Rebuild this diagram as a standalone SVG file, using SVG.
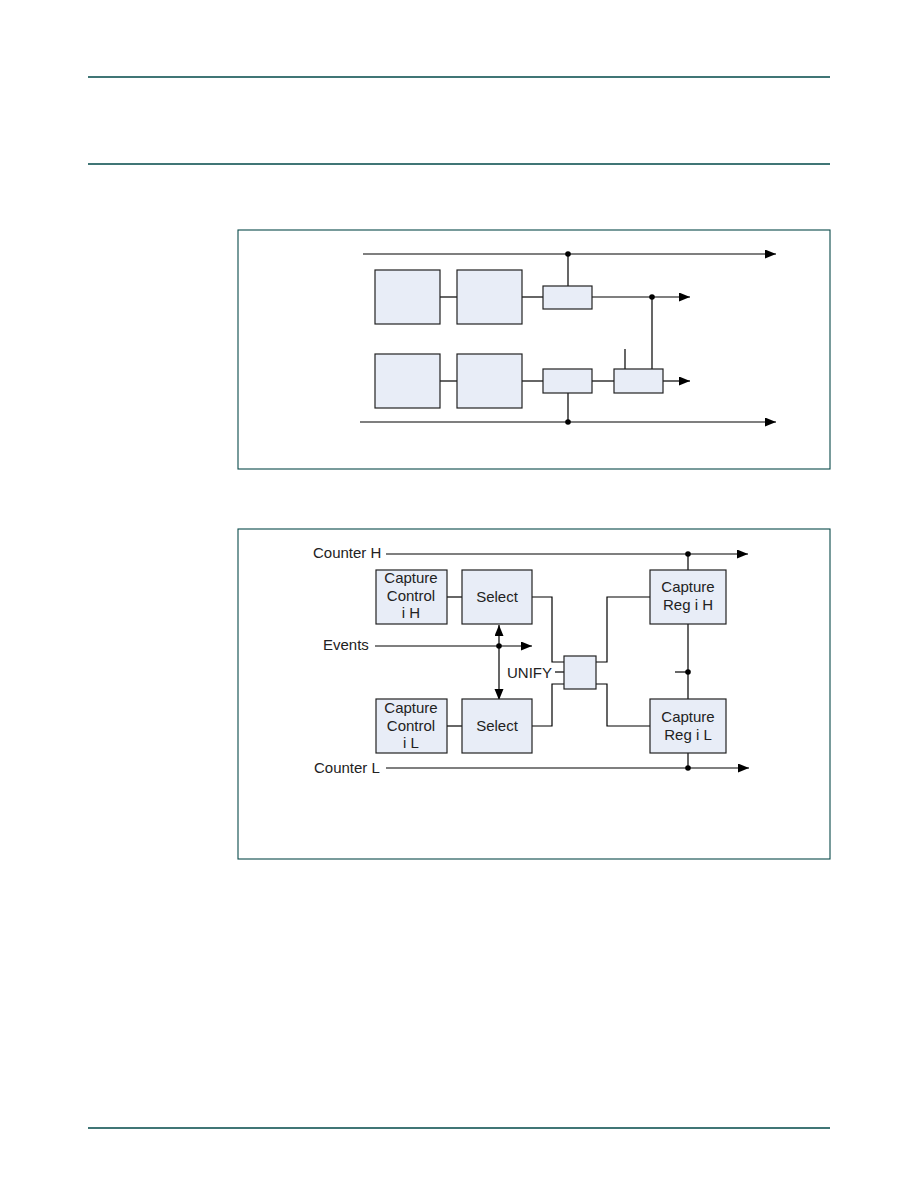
<svg xmlns="http://www.w3.org/2000/svg" width="918" height="1188" viewBox="0 0 918 1188">
<defs>
<style>
.rule{stroke:#004848;stroke-width:1.6;fill:none}
.frame{stroke:#0a4a4a;stroke-width:1.1;fill:none}
.box{fill:#e8edf7;stroke:#222;stroke-width:1.2}
.ln{stroke:#000;stroke-width:1.2;fill:none}
.dot{fill:#000}
.t{font-family:"Liberation Sans",Arial,sans-serif;font-size:15px;fill:#222}
.c{text-anchor:middle}
</style>
<marker id="ah" markerUnits="userSpaceOnUse" markerWidth="12" markerHeight="10" refX="11" refY="4.5" orient="auto">
<path d="M0,0 L11,4.5 L0,9 Z" fill="#000"/>
</marker>
</defs>
<rect width="918" height="1188" fill="#fff"/>
<g id="page-rules">
<line class="rule" x1="88" y1="77" x2="830" y2="77"/>
<line class="rule" x1="88" y1="164" x2="830" y2="164"/>
<line class="rule" x1="88" y1="1128" x2="830" y2="1128"/>
</g>
<g id="frames">
<rect class="frame" x="238" y="230" width="592" height="239"/>
<rect class="frame" x="238" y="529" width="592" height="330"/>
</g>
<!-- Figure 1 -->
<g id="connectors1">
<line class="ln" x1="363" y1="254" x2="776" y2="254" marker-end="url(#ah)"/>
<line class="ln" x1="360" y1="422" x2="776" y2="422" marker-end="url(#ah)"/>
<line class="ln" x1="440" y1="297" x2="457" y2="297"/>
<line class="ln" x1="522" y1="297" x2="543" y2="297"/>
<line class="ln" x1="568" y1="254" x2="568" y2="286"/>
<line class="ln" x1="592" y1="297" x2="690" y2="297" marker-end="url(#ah)"/>
<line class="ln" x1="652" y1="297" x2="652" y2="369"/>
<line class="ln" x1="440" y1="381" x2="457" y2="381"/>
<line class="ln" x1="522" y1="381" x2="543" y2="381"/>
<line class="ln" x1="592" y1="381" x2="614" y2="381"/>
<line class="ln" x1="663" y1="381" x2="690" y2="381" marker-end="url(#ah)"/>
<line class="ln" x1="625" y1="349" x2="625" y2="369"/>
<line class="ln" x1="568" y1="393" x2="568" y2="422"/>
<circle class="dot" cx="568" cy="254" r="2.8"/>
<circle class="dot" cx="652" cy="297" r="2.8"/>
<circle class="dot" cx="568" cy="422" r="2.8"/>
</g>
<g id="f1-box1"><rect class="box" x="375" y="270" width="65" height="54"/></g>
<g id="f1-box2"><rect class="box" x="457" y="270" width="65" height="54"/></g>
<g id="f1-box3"><rect class="box" x="543" y="286" width="49" height="23"/></g>
<g id="f1-box4"><rect class="box" x="375" y="354" width="65" height="54"/></g>
<g id="f1-box5"><rect class="box" x="457" y="354" width="65" height="54"/></g>
<g id="f1-box6"><rect class="box" x="543" y="369" width="49" height="24"/></g>
<g id="f1-box7"><rect class="box" x="614" y="369" width="49" height="24"/></g>
<!-- Figure 2 -->
<g id="connectors2">
<line class="ln" x1="386" y1="554" x2="748" y2="554" marker-end="url(#ah)"/>
<line class="ln" x1="386" y1="768" x2="749" y2="768" marker-end="url(#ah)"/>
<line class="ln" x1="375" y1="646" x2="532" y2="646" marker-end="url(#ah)"/>
<line class="ln" x1="499" y1="646" x2="499" y2="625" marker-end="url(#ah)"/>
<line class="ln" x1="499" y1="646" x2="499" y2="700" marker-end="url(#ah)"/>
<line class="ln" x1="447" y1="597" x2="462" y2="597"/>
<line class="ln" x1="447" y1="726" x2="462" y2="726"/>
<polyline class="ln" points="532,597 552,597 552,662 564,662"/>
<polyline class="ln" points="532,726 552,726 552,684 564,684"/>
<line class="ln" x1="555" y1="672" x2="564" y2="672"/>
<polyline class="ln" points="596,662 607,662 607,597 650,597"/>
<polyline class="ln" points="596,684 607,684 607,726 650,726"/>
<line class="ln" x1="688" y1="554" x2="688" y2="570"/>
<line class="ln" x1="688" y1="624" x2="688" y2="699"/>
<line class="ln" x1="688" y1="753" x2="688" y2="768"/>
<line class="ln" x1="675" y1="672" x2="688" y2="672"/>
<circle class="dot" cx="688" cy="554" r="2.8"/>
<circle class="dot" cx="688" cy="672" r="2.8"/>
<circle class="dot" cx="688" cy="768" r="2.8"/>
<circle class="dot" cx="499" cy="646" r="2.8"/>
</g>
<g id="labels2">
<text class="t" x="313" y="558">Counter H</text>
<text class="t" x="314" y="773">Counter L</text>
<text class="t" x="323" y="650">Events</text>
<text class="t" x="507" y="678">UNIFY</text>
</g>
<g id="cc-h"><rect class="box" x="376" y="570" width="71" height="54"/>
<text class="t c" x="411" y="583">Capture</text><text class="t c" x="411" y="601">Control</text><text class="t c" x="411" y="618">i H</text></g>
<g id="sel-h"><rect class="box" x="462" y="570" width="70" height="54"/>
<text class="t c" x="497" y="602">Select</text></g>
<g id="cc-l"><rect class="box" x="376" y="699" width="71" height="54"/>
<text class="t c" x="411" y="713">Capture</text><text class="t c" x="411" y="731">Control</text><text class="t c" x="411" y="748">i L</text></g>
<g id="sel-l"><rect class="box" x="462" y="699" width="70" height="54"/>
<text class="t c" x="497" y="731">Select</text></g>
<g id="unify"><rect class="box" x="564" y="656" width="32" height="33"/></g>
<g id="reg-h"><rect class="box" x="650" y="570" width="76" height="54"/>
<text class="t c" x="688" y="592">Capture</text><text class="t c" x="688" y="610">Reg i H</text></g>
<g id="reg-l"><rect class="box" x="650" y="699" width="76" height="54"/>
<text class="t c" x="688" y="722">Capture</text><text class="t c" x="688" y="740">Reg i L</text></g>
</svg>
